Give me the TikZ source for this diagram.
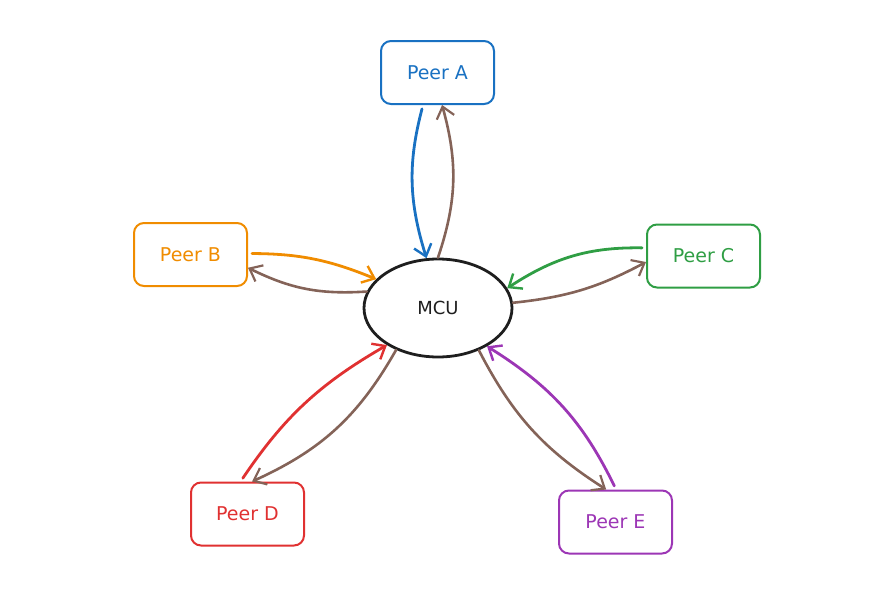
\documentclass[tikz,border=0pt]{standalone}
\usepackage{fontspec}
\setmainfont{DejaVu Sans}
\usepackage{tikz}
\usetikzlibrary{shapes.geometric, arrows.meta}
\definecolor{inkblack}{HTML}{1E1E1E}
\definecolor{peerblue}{HTML}{1971C2}
\definecolor{peerorange}{HTML}{F08C00}
\definecolor{peergreen}{HTML}{2F9E44}
\definecolor{peerred}{HTML}{E03131}
\definecolor{peerpurple}{HTML}{9C36B5}
\definecolor{linkbrown}{HTML}{846358}
\tikzstyle{peer}=[draw, rounded corners=10pt, line width=2pt, minimum width=113pt, minimum height=63pt, inner sep=0pt, font=\fontsize{19}{22}\selectfont]
\tikzstyle{hub}=[draw=inkblack, ellipse, line width=2.8pt, minimum width=148pt, minimum height=98pt, inner sep=0pt, text=inkblack, font=\fontsize{18}{21}\selectfont]
\tikzstyle{uplink}=[line width=2.8pt, line cap=round, shorten <=4pt, -{Straight Barb[length=11pt, width=18pt, line width=2.4pt]}]
\tikzstyle{downlink}=[linkbrown, line width=2.6pt, line cap=round, -{Straight Barb[length=11pt, width=18pt, line width=2.2pt]}]

\begin{document}
\begin{tikzpicture}[x=1pt, y=-1pt]
    % Canvas
    \useasboundingbox (0,0) rectangle (892,597);

    % Hub
    \node[hub] (mcu) at (438,308) {MCU};

    % Peers
    \node[peer, draw=peerblue, text=peerblue] (pa) at (437.5,72.5) {Peer A};
    \node[peer, draw=peerorange, text=peerorange] (pb) at (190.5,254.5) {Peer B};
    \node[peer, draw=peergreen, text=peergreen] (pc) at (703.5,256) {Peer C};
    \node[peer, draw=peerred, text=peerred] (pd) at (247.5,514) {Peer D};
    \node[peer, draw=peerpurple, text=peerpurple] (pe) at (615.5,522) {Peer E};

    % Uplinks (peer -> MCU)
    \draw[uplink, peerblue] (pa.-114) to[bend right=16] (mcu.103);
    \draw[uplink, peerorange] (pb.1) to[bend left=11] (mcu.155);
    \draw[uplink, peergreen] (pc.172) to[bend right=17] (mcu.16);
    \draw[uplink, peerred] (pd.102) to[bend left=13] (mcu.-144);
    \draw[uplink, peerpurple] (pe.89) to[bend right=16] (mcu.-38);

    % Downlinks (MCU -> peer)
    \draw[downlink] (mcu.90) to[bend right=17] (pa.-82);
    \draw[downlink] (mcu.167) to[bend left=15] (pb.-13);
    \draw[downlink] (mcu.4) to[bend right=11] (pc.-174);
    \draw[downlink] (mcu.-135) to[bend left=18] (pd.82);
    \draw[downlink] (mcu.-46) to[bend right=15] (pe.106);
\end{tikzpicture}
\end{document}
